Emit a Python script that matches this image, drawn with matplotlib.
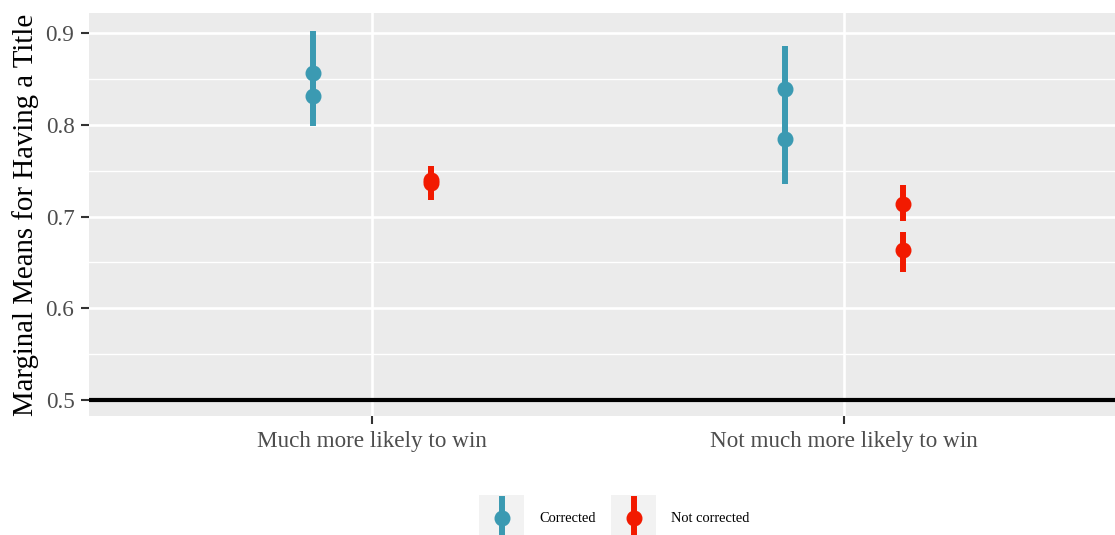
import matplotlib
matplotlib.use("Agg")
import matplotlib.pyplot as plt
from matplotlib.patches import Rectangle
from matplotlib.lines import Line2D

categories = ["Much more likely to win", "Not much more likely to win"]
groups = ["Corrected", "Not corrected"]
colors = {"Corrected": "#3B9AB2", "Not corrected": "#F21A00"}

# estimates per category (two estimates per group/category)
est = {
    "Corrected": [[0.856, 0.831], [0.839, 0.784]],
    "Not corrected": [[0.740, 0.736], [0.714, 0.663]],
}
low = {
    "Corrected": [[0.810, 0.799], [0.793, 0.735]],
    "Not corrected": [[0.722, 0.718], [0.695, 0.640]],
}
high = {
    "Corrected": [[0.902, 0.863], [0.886, 0.833]],
    "Not corrected": [[0.755, 0.753], [0.734, 0.683]],
}
yticks = [0.5, 0.6, 0.7, 0.8, 0.9]
yminor = [0.55, 0.65, 0.75, 0.85]
ylabel = "Marginal Means for Having a Title"

W, H = 1115, 535
fig = plt.figure(figsize=(W / 100, H / 100), dpi=100)
plt.rcParams["font.family"] = ["Liberation Serif", "DejaVu Serif"]

ax = fig.add_axes([89 / W, (H - 416) / H, (W - 89) / W, (416 - 13) / H])
ax.set_facecolor("#EBEBEB")
for s in ax.spines.values():
    s.set_visible(False)

ax.set_xlim(0.4, 2.574)
ax.set_ylim(0.48256, 0.9218)

for yv in yminor:
    ax.axhline(yv, color="white", lw=1.0, zorder=0.5)
for yv in yticks:
    ax.axhline(yv, color="white", lw=1.9, zorder=0.6)
for i in range(len(categories)):
    ax.axvline(i + 1, color="white", lw=1.9, zorder=0.6)

ax.axhline(0.5, color="black", lw=3, zorder=1)

offsets = {"Corrected": -0.125, "Not corrected": 0.125}
for g in groups:
    for ci in range(len(categories)):
        x = ci + 1 + offsets[g]
        for k in range(len(est[g][ci])):
            ax.vlines(x, low[g][ci][k], high[g][ci][k], color=colors[g], lw=4.3, zorder=2)
        for k in range(len(est[g][ci])):
            ax.plot(x, est[g][ci][k], "o", color=colors[g], ms=10.5, mec=colors[g], zorder=3)

ax.set_xticks([1, 2])
ax.set_xticklabels(categories)
ax.set_yticks(yticks)
ax.set_yticklabels([f"{v:.1f}" for v in yticks])
ax.tick_params(axis="both", colors="#333333", labelcolor="#4D4D4D", labelsize=16.7,
               length=5.5, width=1.5, pad=5)
ax.set_ylabel(ylabel, fontsize=20.8, color="black", labelpad=5)

# legend
lax = fig.add_axes([0, 0, 1, 1])
lax.set_xlim(0, W)
lax.set_ylim(H, 0)
lax.axis("off")
boxes = [(479, "Corrected", 539), (611, "Not corrected", 671)]
for bx, g, tx in boxes:
    lax.add_patch(Rectangle((bx, 495), 45, 45, facecolor="#F2F2F2", edgecolor="none"))
    lax.add_line(Line2D([bx + 22.5, bx + 22.5], [499, 540], color=colors[g], lw=4.3))
    lax.plot(bx + 22.5, 517.5, "o", color=colors[g], ms=10.5)
    lax.text(tx, 518, g, fontsize=10.4, va="center", ha="left", color="black")

fig.savefig("out.png", dpi=100)
